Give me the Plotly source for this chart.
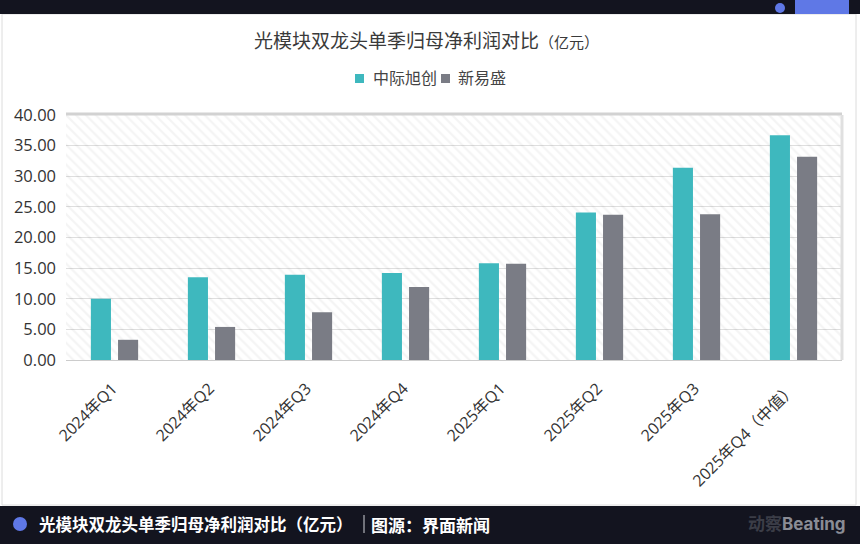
import plotly.graph_objects as go

categories = ["2024年Q1", "2024年Q2", "2024年Q3", "2024年Q4",
              "2025年Q1", "2025年Q2", "2025年Q3", "2025年Q4（中值）"]
zhongji = [10.0, 13.5, 13.9, 14.2, 15.8, 24.1, 31.4, 36.7]
xinyisheng = [3.3, 5.4, 7.8, 11.9, 15.7, 23.7, 23.8, 33.2]
series_names = ["中际旭创", "新易盛"]
y_ticks = [0, 5, 10, 15, 20, 25, 30, 35, 40]

TEAL = "#3eb8be"
GREY = "#7a7c85"
DARK = "#13141f"
BLUE = "#5f78e6"
FONT = "Open Sans, Noto Sans CJK SC, sans-serif"

W, H = 860, 544
L, R, T, B = 66, 842, 115, 360


def px(x):
    return (x - L) / (R - L)


def py(y):
    return (B - y) / (B - T)


fig = go.Figure()

# hatched plot background (decoration) on hidden numeric axis
fig.add_trace(go.Bar(
    x=[0.5], y=[y_ticks[-1]], width=[1], xaxis="x", yaxis="y",
    marker=dict(color="rgba(0,0,0,0)", line=dict(width=0),
                pattern=dict(shape="\\", fgcolor="rgba(0,0,0,0.09)",
                             bgcolor="rgba(0,0,0,0)", size=7, solidity=0.3)),
    showlegend=False, hoverinfo="skip"))

colors = [TEAL, GREY]
for name, vals, col in zip(series_names, [zhongji, xinyisheng], colors):
    fig.add_trace(go.Bar(name=name, x=categories, y=vals,
                         xaxis="x2", yaxis="y", showlegend=False,
                         marker=dict(color=col, line=dict(width=0))))

shapes = [
    # card border
    dict(type="rect", xref="paper", yref="paper", x0=px(2), x1=px(856),
         y0=py(505), y1=py(14), line=dict(color="#dcdcdc", width=1),
         fillcolor="rgba(0,0,0,0)", layer="below"),
    # top bar
    dict(type="rect", xref="paper", yref="paper", x0=px(0), x1=px(860),
         y0=py(14), y1=py(0), line=dict(width=0), fillcolor=DARK),
    dict(type="rect", xref="paper", yref="paper", x0=px(795), x1=px(849),
         y0=py(14), y1=py(0), line=dict(width=0), fillcolor=BLUE),
    dict(type="circle", xref="paper", yref="paper", x0=px(775), x1=px(785),
         y0=py(13), y1=py(3), line=dict(width=0), fillcolor=BLUE),
    # bottom bar
    dict(type="rect", xref="paper", yref="paper", x0=px(0), x1=px(860),
         y0=py(544), y1=py(506), line=dict(width=0), fillcolor=DARK),
    dict(type="circle", xref="paper", yref="paper", x0=px(13), x1=px(27),
         y0=py(531), y1=py(517), line=dict(width=0), fillcolor=BLUE),
    dict(type="line", xref="paper", yref="paper", x0=px(364), x1=px(364),
         y0=py(533), y1=py(515), line=dict(color="#cfd0d6", width=1)),
    # plot top shadow line and right edge
    dict(type="line", xref="paper", yref="paper", x0=0, x1=1,
         y0=py(114), y1=py(114), line=dict(color="#d2d2d2", width=3)),
    dict(type="line", xref="paper", yref="paper", x0=1, x1=1,
         y0=0, y1=1, line=dict(color="#e0e0e0", width=3)),
]

# legend (custom, to match compact spacing)
leg_x = [355, 441]
leg_text_x = [371, 456]
for col, x0 in zip(colors, leg_x):
    shapes.append(dict(type="rect", xref="paper", yref="paper",
                       x0=px(x0), x1=px(x0 + 9), y0=py(83), y1=py(74),
                       line=dict(width=0), fillcolor=col))

annotations = [
    dict(text="光模块双龙头单季归母净利润对比<span style='font-size:15px'>（亿元）</span>",
         xref="paper", yref="paper", x=px(426), y=py(41), xanchor="center",
         yanchor="middle", showarrow=False,
         font=dict(family=FONT, size=19, color="#3a3a3a")),
    dict(text="<b>光模块双龙头单季归母净利润对比（亿元）</b>",
         xref="paper", yref="paper", x=px(37), y=py(524), xanchor="left",
         yanchor="middle", showarrow=False,
         font=dict(family="Noto Sans CJK SC", size=16.5, color="#ffffff")),
    dict(text="<b>图源：界面新闻</b>",
         xref="paper", yref="paper", x=px(369), y=py(524), xanchor="left",
         yanchor="middle", showarrow=False,
         font=dict(family="Noto Sans CJK SC", size=17, color="#ffffff")),
    dict(text="<b><span style='color:#3b3d47'>动察</span>"
              "<span style='color:#8a8c95'>Beating</span></b>",
         xref="paper", yref="paper", x=px(848), y=py(524), xanchor="right",
         yanchor="middle", showarrow=False,
         font=dict(family="Inter, Noto Sans CJK SC", size=17, color="#8a8c95")),
]
for name, tx in zip(series_names, leg_text_x):
    annotations.append(dict(text=name, xref="paper", yref="paper",
                            x=px(tx), y=py(78), xanchor="left",
                            yanchor="middle", showarrow=False,
                            font=dict(family=FONT, size=16, color="#444444")))

fig.update_layout(
    width=W, height=H,
    margin=dict(l=L, r=W - R, t=T, b=H - B, pad=0),
    paper_bgcolor="#ffffff", plot_bgcolor="#ffffff",
    font=dict(family=FONT, size=15, color="#333333"),
    showlegend=False,
    barmode="group", bargap=0.44, bargroupgap=0.26,
    xaxis=dict(range=[0, 1], visible=False, fixedrange=True),
    xaxis2=dict(overlaying="x", anchor="y", side="bottom", type="category",
                tickangle=-45, tickfont=dict(size=16, color="#333333"),
                showgrid=False, showline=True, linecolor="#cccccc",
                linewidth=1, ticks="", ticklabelstandoff=12,
                ticklabelshift=-2),
    yaxis=dict(range=[0, 40], tickvals=y_ticks, tickformat=".2f",
               showgrid=True, gridcolor="#dedede", gridwidth=1,
               zeroline=False, showline=False, ticks="",
               ticklabelstandoff=9,
               tickfont=dict(size=16.5, color="#333333")),
    shapes=shapes, annotations=annotations,
)

fig.write_html("out.html")
